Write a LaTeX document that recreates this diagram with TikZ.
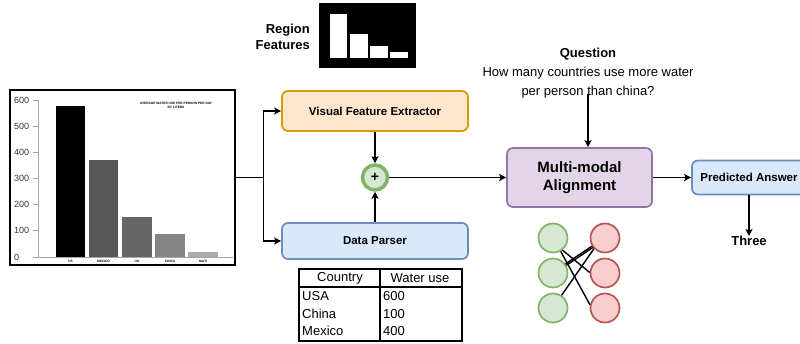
\documentclass[tikz,border=0pt]{standalone}
\usepackage{fontspec}
\setmainfont{Liberation Sans}
\usetikzlibrary{arrows.meta}
\definecolor{vfefill}{HTML}{FFE6CC}
\definecolor{vfedraw}{HTML}{D79B00}
\definecolor{bluefill}{HTML}{DAE8FC}
\definecolor{bluedraw}{HTML}{6C8EBF}
\definecolor{purpfill}{HTML}{E1D5E7}
\definecolor{purpdraw}{HTML}{9673A6}
\definecolor{grnfill}{HTML}{D5E8D4}
\definecolor{grndraw}{HTML}{82B366}
\definecolor{redfill}{HTML}{F8CECC}
\definecolor{reddraw}{HTML}{B85450}
\newcommand{\myfs}[1]{\pgfmathsetlengthmacro\mybskip{1.2*#1}\fontsize{#1}{\mybskip}\selectfont}
\tikzset{
  arr/.style={line width=1.4pt,-{Stealth[length=7pt,width=7pt,inset=1.5pt]}},
  conn/.style={line width=1.4pt},
  procbox/.style={rounded corners=6pt,line width=1.7pt,align=center,inner sep=0pt},
  fs/.style={font=\myfs{#1}},
  bfs/.style={font=\myfs{#1}\bfseries},
  gcirc/.style={circle,minimum size=29pt,inner sep=0pt,line width=1.7pt,fill=grnfill,draw=grndraw},
  rcirc/.style={circle,minimum size=29pt,inner sep=0pt,line width=1.7pt,fill=redfill,draw=reddraw},
  axlab/.style={fs=9,anchor=west,inner sep=0pt,text=black!80},
  tiny/.style={font=\fontsize{3.2}{3.8}\selectfont\bfseries,inner sep=0pt,align=center},
}
\begin{document}
\begin{tikzpicture}[x=1pt,y=-1pt]
\useasboundingbox (0,0) rectangle (800,343);
% ---------- chart image ----------
\node[draw=black,line width=2.5pt,minimum width=225pt,minimum height=175pt,inner sep=0pt] (chart) at (122.5,177.5) {};
\draw[black!35,line width=0.7pt] (38,100) -- (38,257) -- (233,257);
\foreach \v/\yy in {600/100,500/126,400/152,300/178,200/204,100/230,0/257}{
  \node[axlab] at (14,\yy) {\v};
  \draw[black!35,line width=0.7pt] (33,\yy) -- (38,\yy);
}
\fill[black]     (56,105.7) rectangle (85,257);
\fill[black!66]  (89,160) rectangle (118,257);
\fill[black!60]  (122,217) rectangle (152,257);
\fill[black!48]  (155,234) rectangle (185,257);
\fill[black!33]  (188,252) rectangle (218,257);
\node[tiny] at (176,105) {AVERAGE WATER USE PER PERSON PER DAY\\BY LITERS};
\node[tiny] at (70.5,261.3) {US};
\node[tiny] at (103.5,261.3) {MEXICO};
\node[tiny] at (137,261.3) {UK};
\node[tiny] at (170,261.3) {CHINA};
\node[tiny] at (203,261.3) {HAITI};
% ---------- region features ----------
\node[bfs=13,align=right,anchor=east,inner sep=0pt] (rftext) at (310,37) {Region\\Features};
\fill[black] (319,3) rectangle (416,68);
\fill[white] (330,14) rectangle (347,58);
\fill[white] (350,34) rectangle (368,58);
\fill[white] (370,46) rectangle (388,58);
\fill[white] (390,52) rectangle (408,58);
% ---------- boxes ----------
\node[procbox,fill=vfefill,draw=vfedraw,minimum width=186pt,minimum height=40pt,bfs=11.5] (vfe) at (375,111) {Visual Feature Extractor};
\node[procbox,fill=bluefill,draw=bluedraw,minimum width=186pt,minimum height=36pt,bfs=11.5] (dp) at (375,241) {Data Parser};
\node[circle,fill=grnfill,draw=grndraw,line width=3.5pt,minimum size=25pt,inner sep=0pt,bfs=14] (plus) at (375,177.5) {+};
\node[procbox,fill=purpfill,draw=purpdraw,minimum width=145pt,minimum height=59pt,bfs=15] (mma) at (579.5,177.5) {Multi-modal\\Alignment};
\node[procbox,fill=bluefill,draw=bluedraw,minimum width=114pt,minimum height=34pt,bfs=11.5] (pa) at (749,177.5) {Predicted Answer};
\node[bfs=13,inner sep=0pt] (three) at (749,241) {Three};
\node[align=center,inner sep=0pt,font=\fontsize{13}{19}\selectfont] (q) at (588,73.5) {\textbf{Question}\\How many countries use more water\\per person than china?};
% ---------- connectors ----------
\coordinate (split) at ([xshift=27pt]chart.east);
\draw[conn] (chart.east) -- (split);
\draw[arr] (split) |- (vfe.west);
\draw[arr] (split) |- (dp.west);
\draw[arr] (vfe.south) -- (plus.north);
\draw[arr] (dp.north) -- (plus.south);
\draw[arr] (plus.east) -- (mma.west);
\draw[arr] (mma.east) -- (pa.west);
\draw[arr] (pa.south) -- (three.north);
\draw[arr] ([yshift=5pt]q.south) -- (q.south |- mma.north);
% ---------- table ----------
\node[draw=black,line width=1.8pt,minimum width=163pt,minimum height=72pt,inner sep=0pt] (tbl) at (380.5,305) {};
\draw[line width=1.8pt] (tbl.west |- 0,287) -- (tbl.east |- 0,287);
\draw[line width=1.8pt] (tbl.north -| 380,0) -- (tbl.south -| 380,0);
\node[fs=13,inner sep=0pt] (h1) at (340,278) {Country};
\node[fs=13,inner sep=0pt] (h2) at (420,278) {Water use};
\node[fs=13,inner sep=0pt,anchor=west] (c1) at (302,296) {USA};
\node[fs=13,inner sep=0pt,anchor=west] (c2) at (302,314) {China};
\node[fs=13,inner sep=0pt,anchor=west] (c3) at (302,331) {Mexico};
\node[fs=13,inner sep=0pt,anchor=west] (w1) at (383,296) {600};
\node[fs=13,inner sep=0pt,anchor=west] (w2) at (383,314) {100};
\node[fs=13,inner sep=0pt,anchor=west] (w3) at (383,331) {400};
% ---------- alignment circles ----------
\node[gcirc] (g1) at (553,238) {};
\node[gcirc] (g2) at (553,273) {};
\node[gcirc] (g3) at (553,308) {};
\node[rcirc] (r1) at (605,238) {};
\node[rcirc] (r2) at (605,273) {};
\node[rcirc] (r3) at (605,308) {};
\draw[conn] (g1.-52) -- (r2.178);
\draw[conn] (g1.-60) -- (r3.168);
\draw[conn] (g2.30) -- (r1.-142);
\draw[conn] (g2.36) -- (r1.-148);
\draw[conn] (g3.56) -- (r1.-136);
\end{tikzpicture}
\end{document}
